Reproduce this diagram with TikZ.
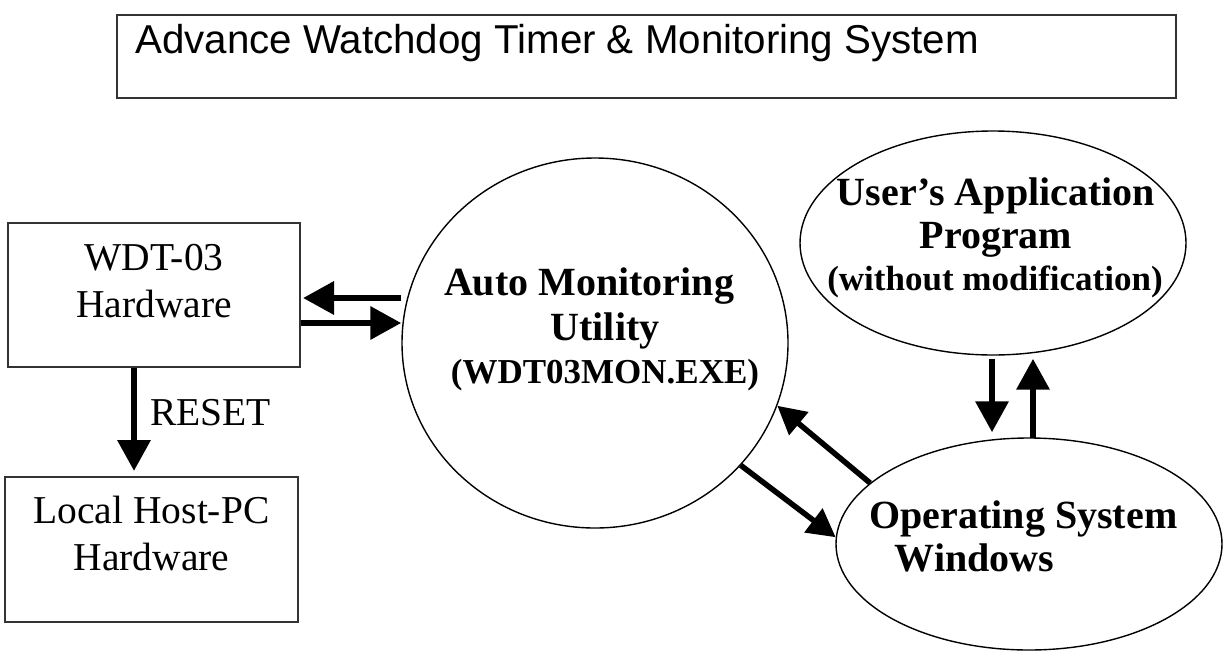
\documentclass[tikz,border=0pt]{standalone}
\usepackage{fontspec}
\setmainfont{Liberation Serif}
\newfontfamily\arialfont{Liberation Sans}
\usetikzlibrary{arrows.meta,shapes.geometric,calc}
\begin{document}
\begin{tikzpicture}[x=1pt,y=-1pt,
  boxstyle/.style={draw=black!80,line width=2pt,rectangle,inner sep=0pt},
  ellstyle/.style={draw=black,line width=1.4pt,ellipse,inner sep=0pt},
  regtext/.style={anchor=base,inner sep=0pt,font=\fontsize{39.5}{47}\selectfont},
  boldtext/.style={anchor=base,inner sep=0pt,font=\fontsize{40}{47}\selectfont\bfseries},
  smallbold/.style={anchor=base,inner sep=0pt,font=\fontsize{35}{42}\selectfont\bfseries},
  bigarr/.style={line width=6.5pt,-{Triangle[length=31pt,width=32pt]}},
  diagarr/.style={line width=5.5pt,-{Triangle[length=28pt,width=29pt]}}]
\useasboundingbox (0,0) rectangle (1225,651);

% title
\node[boxstyle,minimum width=1059pt,minimum height=83pt] (title) at (646.5,56.5) {};
\node[anchor=base west,inner sep=0pt,font=\arialfont\fontsize{40.3}{48}\selectfont] (titletext) at (135,53) {Advance Watchdog Timer \& Monitoring System};

% boxes
\node[boxstyle,minimum width=292pt,minimum height=144pt] (wdt) at (154,295) {};
\node[regtext] (wdtA) at (154,270) {WDT-03};
\node[regtext] (wdtB) at (154,317) {Hardware};

\node[boxstyle,minimum width=293pt,minimum height=145pt] (host) at (151.5,549.5) {};
\node[regtext] (hostA) at (151.5,523) {Local Host-PC};
\node[regtext] (hostB) at (151.5,570) {Hardware};

% ellipses
\node[ellstyle,minimum width=386pt,minimum height=370pt] (circ) at (595,343) {};
\node[boldtext] (circA) at (589,295) {Auto Monitoring};
\node[boldtext] (circB) at (605,340) {Utility};
\node[smallbold] (circC) at (605,383) {(WDT03MON.EXE)};

\node[ellstyle,minimum width=386pt,minimum height=224pt] (user) at (993,243) {};
\node[boldtext] (userA) at (996,205) {User’s Application};
\node[boldtext] (userB) at (996,248) {Program};
\node[smallbold] (userC) at (995,290) {(without modification)};

\node[ellstyle,minimum width=386pt,minimum height=212pt] (os) at (1029,544) {};
\node[boldtext] (osA) at (1023.5,528) {Operating System};
\node[boldtext] (osB) at (974.5,571) {Windows};

% connectors
\draw[bigarr] ($(circ.west)+(0,-45)$) -- ($(wdt.east)+(2,3)$);
\draw[bigarr] ($(wdt.east)+(0,28)$) -- ($(circ.west)+(0,-20)$);
\draw[bigarr] ($(wdt.south)+(-20,0)$) -- ($(host.north)+(-17.5,-5)$);
\node[regtext,anchor=base west] (reset) at (150,425) {RESET};

\draw[diagarr] (os.159) -- (circ.-19.5);
\draw[diagarr] (circ.-40) -- (os.178);

\draw[bigarr] ($(user.south)+(-1,3)$) -- ($(os.north)+(-37,-5)$);
\draw[bigarr] ($(os.north)+(4,1)$) -- ($(user.south)+(40,3)$);
\end{tikzpicture}
\end{document}
